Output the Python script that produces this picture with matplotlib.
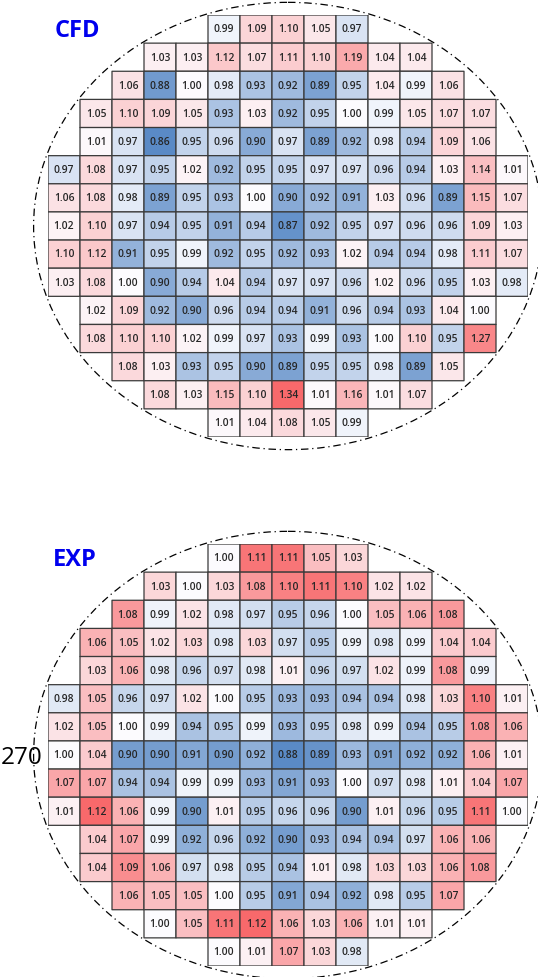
import numpy as np
import matplotlib
matplotlib.use("Agg")
import matplotlib.pyplot as plt
from matplotlib.colors import LinearSegmentedColormap, TwoSlopeNorm
from matplotlib.patches import Circle

# first column that holds a value, for each of the 15 rows of the wafer map
row_start = [5, 3, 2, 1, 1, 0, 0, 0, 0, 0, 1, 1, 2, 3, 5]

cfd_rows = [
    [0.99, 1.09, 1.10, 1.05, 0.97],
    [1.03, 1.03, 1.12, 1.07, 1.11, 1.10, 1.19, 1.04, 1.04],
    [1.06, 0.88, 1.00, 0.98, 0.93, 0.92, 0.89, 0.95, 1.04, 0.99, 1.06],
    [1.05, 1.10, 1.09, 1.05, 0.93, 1.03, 0.92, 0.95, 1.00, 0.99, 1.05, 1.07, 1.07],
    [1.01, 0.97, 0.86, 0.95, 0.96, 0.90, 0.97, 0.89, 0.92, 0.98, 0.94, 1.09, 1.06],
    [0.97, 1.08, 0.97, 0.95, 1.02, 0.92, 0.95, 0.95, 0.97, 0.97, 0.96, 0.94, 1.03, 1.14, 1.01],
    [1.06, 1.08, 0.98, 0.89, 0.95, 0.93, 1.00, 0.90, 0.92, 0.91, 1.03, 0.96, 0.89, 1.15, 1.07],
    [1.02, 1.10, 0.97, 0.94, 0.95, 0.91, 0.94, 0.87, 0.92, 0.95, 0.97, 0.96, 0.96, 1.09, 1.03],
    [1.10, 1.12, 0.91, 0.95, 0.99, 0.92, 0.95, 0.92, 0.93, 1.02, 0.94, 0.94, 0.98, 1.11, 1.07],
    [1.03, 1.08, 1.00, 0.90, 0.94, 1.04, 0.94, 0.97, 0.97, 0.96, 1.02, 0.96, 0.95, 1.03, 0.98],
    [1.02, 1.09, 0.92, 0.90, 0.96, 0.94, 0.94, 0.91, 0.96, 0.94, 0.93, 1.04, 1.00],
    [1.08, 1.10, 1.10, 1.02, 0.99, 0.97, 0.93, 0.99, 0.93, 1.00, 1.10, 0.95, 1.27],
    [1.08, 1.03, 0.93, 0.95, 0.90, 0.89, 0.95, 0.95, 0.98, 0.89, 1.05],
    [1.08, 1.03, 1.15, 1.10, 1.34, 1.01, 1.16, 1.01, 1.07],
    [1.01, 1.04, 1.08, 1.05, 0.99],
]

exp_rows = [
    [1.00, 1.11, 1.11, 1.05, 1.03],
    [1.03, 1.00, 1.03, 1.08, 1.10, 1.11, 1.10, 1.02, 1.02],
    [1.08, 0.99, 1.02, 0.98, 0.97, 0.95, 0.96, 1.00, 1.05, 1.06, 1.08],
    [1.06, 1.05, 1.02, 1.03, 0.98, 1.03, 0.97, 0.95, 0.99, 0.98, 0.99, 1.04, 1.04],
    [1.03, 1.06, 0.98, 0.96, 0.97, 0.98, 1.01, 0.96, 0.97, 1.02, 0.99, 1.08, 0.99],
    [0.98, 1.05, 0.96, 0.97, 1.02, 1.00, 0.95, 0.93, 0.93, 0.94, 0.94, 0.98, 1.03, 1.10, 1.01],
    [1.02, 1.05, 1.00, 0.99, 0.94, 0.95, 0.99, 0.93, 0.95, 0.98, 0.99, 0.94, 0.95, 1.08, 1.06],
    [1.00, 1.04, 0.90, 0.90, 0.91, 0.90, 0.92, 0.88, 0.89, 0.93, 0.91, 0.92, 0.92, 1.06, 1.01],
    [1.07, 1.07, 0.94, 0.94, 0.99, 0.99, 0.93, 0.91, 0.93, 1.00, 0.97, 0.98, 1.01, 1.04, 1.07],
    [1.01, 1.12, 1.06, 0.99, 0.90, 1.01, 0.95, 0.96, 0.96, 0.90, 1.01, 0.96, 0.95, 1.11, 1.00],
    [1.04, 1.07, 0.99, 0.92, 0.96, 0.92, 0.90, 0.93, 0.94, 0.94, 0.97, 1.06, 1.06],
    [1.04, 1.09, 1.06, 0.97, 0.98, 0.95, 0.94, 1.01, 0.98, 1.03, 1.03, 1.06, 1.08],
    [1.06, 1.05, 1.05, 1.00, 0.95, 0.91, 0.94, 0.92, 0.98, 0.95, 1.07],
    [1.00, 1.05, 1.11, 1.12, 1.06, 1.03, 1.06, 1.01, 1.01],
    [1.00, 1.01, 1.07, 1.03, 0.98],
]

N = 15
# excel style red - white - blue scale
cmap = LinearSegmentedColormap.from_list("rwb", ["#5A8AC6", "#FCFCFF", "#F8696B"])


def to_grid(rows):
    grid = np.full((N, N), np.nan)
    for r, vals in enumerate(rows):
        s = row_start[r]
        grid[r, s:s + len(vals)] = vals
    return np.ma.masked_invalid(grid)


def draw_map(ax, rows):
    grid = to_grid(rows)
    norm = TwoSlopeNorm(vmin=grid.min(), vcenter=1.0, vmax=grid.max())
    ax.pcolor(np.arange(N + 1), np.arange(N + 1), grid, cmap=cmap, norm=norm,
              edgecolors="#3a3a3a", linewidth=0.9)
    for r in range(N):
        for c in range(N):
            if grid.mask[r, c]:
                continue
            ax.text(c + 0.5, r + 0.53, f"{grid[r, c]:.2f}", ha="center", va="center",
                    fontsize=7.4, fontweight="semibold", color="#262626",
                    family="Open Sans")
    ax.add_patch(Circle((7.5, 7.5), 7.95, fill=False, ec="black", lw=0.9,
                        ls=(0, (6, 3, 1, 3)), clip_on=False))
    ax.set_xlim(0, N)
    ax.set_ylim(N, 0)
    ax.axis("off")


fig = plt.figure(figsize=(5.38, 9.77), dpi=100)
ax1 = fig.add_axes([48 / 538, 1 - 437 / 977, 480 / 538, 422 / 977])
ax2 = fig.add_axes([48 / 538, 1 - 966 / 977, 480 / 538, 422 / 977])

draw_map(ax1, cfd_rows)
draw_map(ax2, exp_rows)

fig.text(77 / 538, 1 - 31 / 977, "CFD", ha="center", va="center", fontsize=17,
         fontweight="bold", color="#0000ee", family="Open Sans")
fig.text(75 / 538, 1 - 560 / 977, "EXP", ha="center", va="center", fontsize=17,
         fontweight="bold", color="#0000ee", family="Open Sans")
fig.text(22 / 538, 1 - 758 / 977, "270", ha="center", va="center", fontsize=17.5,
         color="black", family="Open Sans")

fig.savefig("out.png", dpi=100)
